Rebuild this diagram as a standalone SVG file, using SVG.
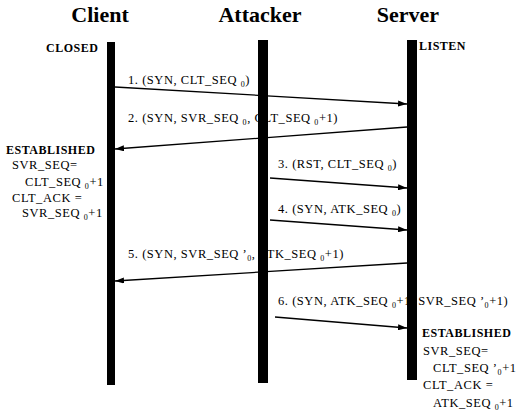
<svg xmlns="http://www.w3.org/2000/svg" width="518" height="415" viewBox="0 0 518 415">
  <style>
    .title { font-family: "Liberation Serif", "Times New Roman", serif; font-weight: bold; font-size: 22px; fill: #000; }
    .state { font-family: "Liberation Serif", "Times New Roman", serif; font-weight: bold; font-size: 12px; letter-spacing: 0.5px; fill: #000; }
    .lbl { font-family: "Liberation Serif", "Times New Roman", serif; font-size: 12.5px; letter-spacing: 0.55px; fill: #000; }
    .sub { font-size: 8px; }
    .msg { stroke: #000; stroke-width: 1.3; fill: none; marker-end: url(#head); }
    .life { fill: #000; }
  </style>
  <defs>
    <marker id="head" viewBox="0 0 9 6" refX="9" refY="3" markerWidth="9" markerHeight="6" markerUnits="userSpaceOnUse" orient="auto">
      <path d="M0,0 L9,3 L0,6 Z" fill="#000"/>
    </marker>
  </defs>
  <rect width="518" height="415" fill="#fff"/>

  <!-- column headings -->
  <g id="client-head"><text class="title" x="100" y="22" text-anchor="middle">Client</text></g>
  <g id="attacker-head"><text class="title" x="260" y="22" text-anchor="middle">Attacker</text></g>
  <g id="server-head"><text class="title" x="408" y="22" text-anchor="middle">Server</text></g>

  <!-- message connectors -->
  <g id="connectors">
    <line class="msg" x1="115" y1="87" x2="407" y2="104"/>
    <line class="msg" x1="407" y1="127" x2="115" y2="149"/>
    <line class="msg" x1="270" y1="178" x2="407" y2="188"/>
    <line class="msg" x1="270" y1="220" x2="407" y2="230"/>
    <line class="msg" x1="407" y1="263" x2="115" y2="281"/>
    <line class="msg" x1="275" y1="317" x2="407" y2="328"/>
  </g>

  <!-- message labels -->
  <g id="labels">
    <text class="lbl" x="128" y="84">1. (SYN, CLT_SEQ <tspan class="sub" dy="3">0</tspan><tspan dy="-3">)</tspan></text>
    <text class="lbl" x="128" y="122">2. (SYN, SVR_SEQ <tspan class="sub" dy="3">0</tspan><tspan dy="-3">, CLT_SEQ </tspan><tspan class="sub" dy="3">0</tspan><tspan dy="-3">+1)</tspan></text>
    <text class="lbl" x="278" y="168">3. (RST, CLT_SEQ <tspan class="sub" dy="3">0</tspan><tspan dy="-3">)</tspan></text>
    <text class="lbl" x="278" y="213">4. (SYN, ATK_SEQ <tspan class="sub" dy="3">0</tspan><tspan dy="-3">)</tspan></text>
    <text class="lbl" x="128" y="258">5. (SYN, SVR_SEQ ’<tspan class="sub" dy="3">0</tspan><tspan dy="-3">, ATK_SEQ </tspan><tspan class="sub" dy="3">0</tspan><tspan dy="-3">+1)</tspan></text>
    <text class="lbl" x="278" y="305">6. (SYN, ATK_SEQ <tspan class="sub" dy="3">0</tspan><tspan dy="-3">+1, SVR_SEQ ’</tspan><tspan class="sub" dy="3">0</tspan><tspan dy="-3">+1)</tspan></text>
  </g>

  <!-- lifelines -->
  <g id="client">
    <rect class="life" x="107" y="42" width="8" height="343"/>
    <text class="state" x="46" y="52">CLOSED</text>
    <text class="state" x="6" y="154">ESTABLISHED</text>
    <text class="lbl" x="12" y="169">SVR_SEQ=</text>
    <text class="lbl" x="25" y="186">CLT_SEQ <tspan class="sub" dy="3">0</tspan><tspan dy="-3">+1</tspan></text>
    <text class="lbl" x="12" y="202">CLT_ACK =</text>
    <text class="lbl" x="22" y="217">SVR_SEQ <tspan class="sub" dy="3">0</tspan><tspan dy="-3">+1</tspan></text>
  </g>
  <g id="attacker">
    <rect class="life" x="258" y="40" width="10" height="343"/>
  </g>
  <g id="server">
    <rect class="life" x="407" y="40" width="10" height="340"/>
    <text class="state" x="419" y="50">LISTEN</text>
    <text class="state" x="422" y="337">ESTABLISHED</text>
    <text class="lbl" x="423" y="355">SVR_SEQ=</text>
    <text class="lbl" x="433" y="372">CLT_SEQ ’<tspan class="sub" dy="3">0</tspan><tspan dy="-3">+1</tspan></text>
    <text class="lbl" x="423" y="389">CLT_ACK =</text>
    <text class="lbl" x="433" y="407">ATK_SEQ <tspan class="sub" dy="3">0</tspan><tspan dy="-3">+1</tspan></text>
  </g>
</svg>
